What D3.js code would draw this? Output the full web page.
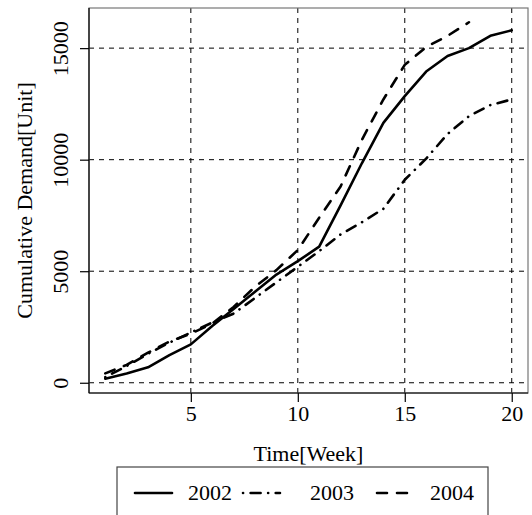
<!DOCTYPE html>
<html>
<head>
<meta charset="utf-8">
<script src="https://d3js.org/d3.v7.min.js"></script>
<style>
  body { margin: 0; background: #fff; }
  svg text { font-family: "Liberation Serif", "Times New Roman", Times, "DejaVu Serif", serif !important; font-size: 22px !important; fill: #000; }
  .grid line { stroke: #000; stroke-width: 1; stroke-dasharray: 5,5; }
  .series { fill: none; stroke: #000; stroke-width: 2.6; stroke-linecap: round; stroke-linejoin: round; }
</style>
</head>
<body>
<div id="chart"></div>
<script>
  // data
  const weeks = d3.range(1, 21);
  const demand2002 = [180, 420, 690, 1240, 1720, 2540, 3310, 4080, 4850, 5450, 6100, 7950, 9850, 11650, 12850, 13950, 14650, 15000, 15550, 15800];
  const demand2003 = [250, 750, 1300, 1800, 2250, 2700, 3100, 3800, 4500, 5200, 5900, 6650, 7200, 7800, 9100, 10050, 11150, 11950, 12450, 12700];
  const demand2004 = [420, 800, 1350, 1850, 2200, 2650, 3400, 4300, 5050, 5950, 7400, 8800, 10900, 12700, 14250, 15050, 15550, 16160];
  const seriesNames = ["2002", "2003", "2004"];
  const xTicks = [5, 10, 15, 20];
  const yTicks = [0, 5000, 10000, 15000];

  const series = [
    {name: seriesNames[0], values: demand2002, dash: null},
    {name: seriesNames[1], values: demand2003, dash: "0.1,7.5,10,7.5"},
    {name: seriesNames[2], values: demand2004, dash: "10,10"}
  ];

  const W = 532, H = 515;
  const pLeft = 89, pRight = 528, pTop = 8, pBottom = 393;
  const serif = "'Liberation Serif', 'Times New Roman', Times, 'DejaVu Serif', serif";

  const svg = d3.select("#chart").append("svg")
    .attr("width", W).attr("height", H)
    .attr("font-family", serif);

  // R style 4% padding of the ranges
  const xr = [1, 20], xp = (xr[1] - xr[0]) * 0.04;
  const allY = demand2002.concat(demand2003, demand2004);
  const yr = d3.extent(allY), yp = (yr[1] - yr[0]) * 0.04;

  const x = d3.scaleLinear().domain([xr[0] - xp, xr[1] + xp]).range([pLeft, pRight]);
  const y = d3.scaleLinear().domain([yr[0] - yp, yr[1] + yp]).range([pBottom, pTop]);

  // grid
  const grid = svg.append("g").attr("class", "grid");
  grid.selectAll(".vx").data(xTicks).join("line")
    .attr("x1", d => x(d)).attr("x2", d => x(d))
    .attr("y1", pTop).attr("y2", pBottom);
  grid.selectAll(".hy").data(yTicks).join("line")
    .attr("x1", pLeft).attr("x2", pRight)
    .attr("y1", d => y(d)).attr("y2", d => y(d));

  // lines
  const line = d3.line().x((d, i) => x(weeks[i])).y(d => y(d));
  svg.selectAll(".series").data(series).join("path")
    .attr("class", "series")
    .attr("d", d => line(d.values))
    .attr("stroke-dasharray", d => d.dash);

  // box
  svg.append("rect")
    .attr("x", pLeft).attr("y", pTop)
    .attr("width", pRight - pLeft).attr("height", pBottom - pTop)
    .attr("fill", "none").attr("stroke", "#777").attr("stroke-width", 1.2);

  // axes
  const xAxis = svg.append("g")
    .attr("transform", `translate(0,${pBottom})`)
    .call(d3.axisBottom(x).tickValues(xTicks).tickSize(9).tickPadding(7).tickSizeOuter(0));
  xAxis.attr("font-family", serif).attr("font-size", 22);
  xAxis.select(".domain").attr("d", `M${pLeft},0H${pRight}`).attr("stroke", "#000").attr("stroke-width", 1.2);
  xAxis.selectAll(".tick line").attr("stroke-width", 1.2);
  xAxis.selectAll(".tick text").attr("dy", "0.55em");

  const yAxis = svg.append("g")
    .attr("transform", `translate(${pLeft},0)`)
    .call(d3.axisLeft(y).tickValues(yTicks).tickFormat(d3.format("d")).tickSize(9).tickSizeOuter(0));
  yAxis.attr("font-family", serif).attr("font-size", 22);
  yAxis.select(".domain").attr("d", `M0,${pTop}V${pBottom}`).attr("stroke", "#000").attr("stroke-width", 1.2);
  yAxis.selectAll(".tick line").attr("stroke-width", 1.2);
  yAxis.selectAll(".tick text")
    .attr("x", null).attr("dy", null)
    .attr("text-anchor", "middle")
    .attr("transform", "translate(-21,0) rotate(-90)");

  // axis titles
  svg.append("text")
    .attr("x", (pLeft + pRight) / 2).attr("y", 461)
    .attr("text-anchor", "middle")
    .text("Time[Week]");
  svg.append("text")
    .attr("transform", `translate(32,${(pTop + pBottom) / 2}) rotate(-90)`)
    .attr("text-anchor", "middle")
    .text("Cumulative Demand[Unit]");

  // legend
  const lg = svg.append("g");
  lg.append("rect")
    .attr("x", 117).attr("y", 467).attr("width", 371).attr("height", 70)
    .attr("fill", "#fff").attr("stroke", "#444").attr("stroke-width", 1.2);
  const itemX = [135, 243, 377];
  const items = lg.selectAll(".item").data(series).join("g")
    .attr("transform", (d, i) => `translate(${itemX[i]},493)`);
  items.append("line")
    .attr("class", "series")
    .attr("x1", 0).attr("x2", d => d.name === "2004" ? 31 : 37)
    .attr("y1", 0).attr("y2", 0)
    .attr("stroke-dasharray", d => d.dash);
  items.append("text")
    .attr("x", (d, i) => [53, 67, 53][i]).attr("y", 7)
    .text(d => d.name);
</script>
</body>
</html>
